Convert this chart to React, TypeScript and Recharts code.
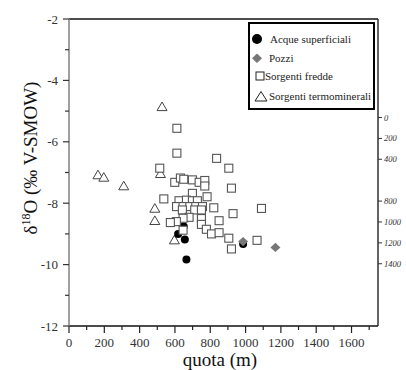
import React from 'react'
import {
  Legend,
  ReferenceLine,
  Scatter,
  ScatterChart,
  XAxis,
  YAxis,
} from 'recharts'

// quota (m) / δ18O (‰ V-SMOW)
const freddeQuota = [
  611, 611, 514, 836, 905, 920, 1090, 929, 599, 631, 650, 699, 737, 769, 769,
  537, 699, 782, 623, 665, 699, 727, 609, 646, 684, 718, 756, 642, 712, 750,
  820, 850, 750, 680, 646, 608, 574, 750, 778, 807, 850, 905, 646, 1065, 920,
]
const freddeD18O = [
  -5.56, -6.37, -6.86, -6.54, -6.86, -7.51, -8.17, -8.34, -7.32, -7.18, -7.22, -7.24, -7.32, -7.26, -7.44,
  -7.86, -7.68, -7.79, -7.92, -7.9, -7.92, -7.92, -8.11, -8.11, -8.11, -8.11, -8.11, -8.22, -8.22, -8.22,
  -8.15, -8.57, -8.5, -8.46, -8.49, -8.6, -8.63, -8.69, -8.85, -9.0, -8.96, -9.14, -8.88, -9.21, -9.49,
]

const termoQuota = [527, 164, 197, 310, 518, 486, 486, 597]
const termoD18O = [-4.86, -7.08, -7.16, -7.44, -7.04, -8.17, -8.57, -9.2]

const superficialiQuota = [618, 656, 665, 650, 986]
const superficialiD18O = [-9.0, -9.18, -9.83, -8.76, -9.33]

const pozziQuota = [986, 1169]
const pozziD18O = [-9.25, -9.44]

const xTicks = [0, 100, 200, 300, 400, 500, 600, 700, 800, 900, 1000, 1100, 1200, 1300, 1400, 1500, 1600, 1700]
const yTicks = [-12, -11, -10, -9, -8, -7, -6, -5, -4, -3, -2]
const depthTicks = [0, 200, 400, 800, 1000, 1200, 1400]

const seriesNames = ['Acque superficiali', 'Pozzi', 'Sorgenti fredde', 'Sorgenti termominerali']

const zip = (xs: number[], ys: number[]) => xs.map((x, i) => ({ quota: x, d18o: ys[i] }))

const fredde = zip(freddeQuota, freddeD18O)
const termo = zip(termoQuota, termoD18O)
const superficiali = zip(superficialiQuota, superficialiD18O)
const pozzi = zip(pozziQuota, pozziD18O)

const serif = { fontFamily: "'Liberation Serif', 'DejaVu Serif', serif" }
const TXT = '#333'

const SquareMark = (p: any) => (
  <rect x={p.cx - 4} y={p.cy - 4} width={8} height={8} fill="#fff" stroke="#555" strokeWidth={1.1} />
)
const TriangleMark = (p: any) => (
  <polygon
    points={`${p.cx},${p.cy - 4.8} ${p.cx + 5},${p.cy + 3.8} ${p.cx - 5},${p.cy + 3.8}`}
    fill="#fff"
    stroke="#444"
    strokeWidth={1}
  />
)
const CircleMark = (p: any) => <circle cx={p.cx} cy={p.cy} r={4} fill="#000" />
const DiamondMark = (p: any) => (
  <polygon
    points={`${p.cx},${p.cy - 4.6} ${p.cx + 5},${p.cy} ${p.cx},${p.cy + 4.6} ${p.cx - 5},${p.cy}`}
    fill="#777"
  />
)

function LeftTick({ x, y, payload }: any) {
  const major = payload.value % 2 === 0
  return (
    <g>
      <line x1={x - (major ? 6 : 4)} x2={x} y1={y} y2={y} stroke="#333" strokeWidth={1.2} />
      {major && (
        <text x={x - 11} y={y + 4.5} textAnchor="end" fontSize={13} fill={TXT} style={serif}>
          {payload.value}
        </text>
      )}
    </g>
  )
}

function BottomTick({ x, y, payload }: any) {
  const major = payload.value % 200 === 0
  return (
    <g>
      <line x1={x} x2={x} y1={y} y2={y + (major ? 7 : 4)} stroke="#222" strokeWidth={1.2} />
      {major && (
        <text x={x} y={y + 20.5} textAnchor="middle" fontSize={13} fill={TXT} style={serif}>
          {payload.value}
        </text>
      )}
    </g>
  )
}

function RightTick({ x, y, payload }: any) {
  return (
    <g>
      <line x1={x} x2={x + 4} y1={y} y2={y} stroke="#333" strokeWidth={1} />
      <text x={x + 6} y={y + 3} fontSize={8.5} fontStyle="italic" fill={TXT} style={serif}>
        {payload.value}
      </text>
    </g>
  )
}

function LegendBox() {
  return (
    <svg width={127} height={88} style={{ display: 'block' }}>
      <rect x={1} y={1} width={125} height={86} fill="#fff" stroke="#000" strokeWidth={2} />
      <circle cx={9} cy={17} r={5} fill="#000" />
      <polygon points="9,31.5 14,36.3 9,41.1 4,36.3" fill="#777" />
      <rect x={8} y={50} width={8} height={8} fill="#fff" stroke="#222" strokeWidth={1} />
      <polygon points="13,69.5 19,79 7,79" fill="#fff" stroke="#222" strokeWidth={1} />
      <g fontSize={11} fill="#222" style={serif}>
        <text x={22} y={20.5}>{seriesNames[0]}</text>
        <text x={21} y={39.5}>{seriesNames[1]}</text>
        <text x={17} y={57.5}>{seriesNames[2]}</text>
        <text x={21} y={78}>{seriesNames[3]}</text>
      </g>
    </svg>
  )
}

export default function App() {
  return (
    <div style={{ position: 'absolute', left: 0, top: 0, width: 406, height: 370, background: '#fff' }}>
      <ScatterChart width={406} height={370} margin={{ top: 19, right: 6, bottom: 0, left: 9 }}>
        <XAxis
          type="number"
          dataKey="quota"
          domain={[0, 1750]}
          allowDataOverflow
          ticks={xTicks}
          interval={0}
          height={44}
          tickSize={0}
          tickMargin={0}
          tickLine={false}
          tick={<BottomTick />}
          axisLine={{ stroke: '#111', strokeWidth: 1.5 }}
          label={{
            content: () => (
              <text x={220} y={365.5} textAnchor="middle" fontSize={19} fill="#111" style={serif}>
                quota (m)
              </text>
            ),
          }}
        />
        <YAxis
          yAxisId="d18o"
          type="number"
          dataKey="d18o"
          domain={[-12, -2]}
          allowDataOverflow
          ticks={yTicks}
          interval={0}
          width={60}
          tickSize={0}
          tickMargin={0}
          tickLine={false}
          tick={<LeftTick />}
          axisLine={{ stroke: '#888', strokeWidth: 1.6 }}
          label={{
            content: () => (
              <text
                x={37}
                y={158}
                transform="rotate(-90, 37, 158)"
                textAnchor="middle"
                fontSize={19}
                fill="#111"
                style={serif}
              >
                δ<tspan fontSize={12} dy={-7}>18</tspan>
                <tspan dy={7}>O (‰ V-SMOW)</tspan>
              </text>
            ),
          }}
        />
        <YAxis
          yAxisId="depth"
          orientation="right"
          type="number"
          domain={[-943, 1996]}
          reversed
          allowDataOverflow
          ticks={depthTicks}
          interval={0}
          width={22}
          tickSize={0}
          tickMargin={0}
          tickLine={false}
          tick={<RightTick />}
          axisLine={{ stroke: '#111', strokeWidth: 1.3 }}
        />
        <ReferenceLine yAxisId="d18o" y={-2} stroke="#111" strokeWidth={1.5} />
        <Legend
          layout="horizontal"
          verticalAlign="middle"
          align="center"
          wrapperStyle={{ left: 248, top: 22, width: 127, height: 88 }}
          content={() => <LegendBox />}
        />
        <Scatter yAxisId="d18o" name={seriesNames[3]} data={termo} shape={TriangleMark} isAnimationActive={false} />
        <Scatter yAxisId="d18o" name={seriesNames[0]} data={superficiali} shape={CircleMark} isAnimationActive={false} />
        <Scatter yAxisId="d18o" name={seriesNames[2]} data={fredde} shape={SquareMark} isAnimationActive={false} />
        <Scatter yAxisId="d18o" name={seriesNames[1]} data={pozzi} shape={DiamondMark} isAnimationActive={false} />
      </ScatterChart>
    </div>
  )
}
